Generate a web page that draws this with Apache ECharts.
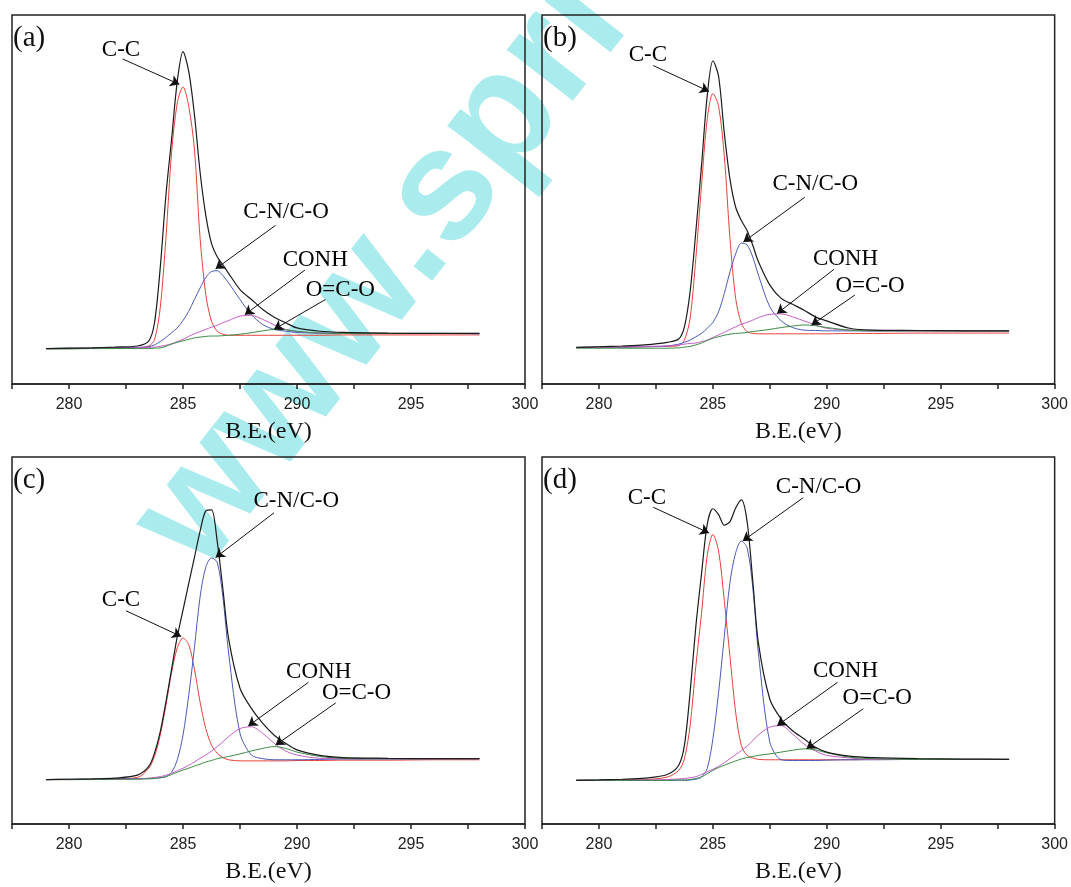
<!DOCTYPE html>
<html>
<head>
<meta charset="utf-8">
<script src="https://cdn.jsdelivr.net/npm/echarts@6/dist/echarts.min.js"></script>
<style>
  html, body { margin: 0; padding: 0; background: #fff; }
  #chart { width: 1071px; height: 887px; }
</style>
</head>
<body>
<div id="chart"></div>
<script>
// C1s 分峰拟合 - 四个样品
// 结合能 (eV)
const energy = [279, 280, 281, 282, 283, 283.5, 283.75, 284, 284.25, 284.5, 284.75, 285, 285.25, 285.5, 285.75,
  286, 286.25, 286.5, 286.75, 287, 287.5, 288, 288.5, 289, 289.5, 290, 291, 292, 294, 296, 298]

// (a)
const aTotal = [9.6, 9.7, 9.8, 10.0, 10.3, 11.7, 16.6, 31.4, 51.1, 66.4, 82.1, 90.1, 84.8, 73.1, 57.4,
  45.7, 38.1, 34.5, 32.3, 30.0, 25.6, 22.9, 20.2, 18.1, 16.6, 15.2, 14.3, 14.0, 13.8, 13.7, 13.7]
const aCC = [9.6, 9.6, 9.7, 9.8, 9.9, 10.3, 12.0, 20.6, 39.5, 62.8, 76.2, 80.5, 75.3, 63.7, 39.5,
  24.2, 17.0, 14.3, 13.5, 13.2, 13.2, 13.2, 13.2, 13.2, 13.2, 13.2, 13.2, 13.3, 13.3, 13.3, 13.3]
const aCN = [9.6, 9.7, 9.7, 9.8, 9.9, 10.1, 10.6, 11.5, 12.6, 13.9, 15.2, 17.2, 19.7, 22.9, 26.0,
  28.9, 30.5, 30.7, 29.4, 27.4, 22.9, 18.8, 16.1, 14.8, 14.3, 14.0, 13.8, 13.8, 13.7, 13.7, 13.6]
const aCONH = [9.6, 9.6, 9.7, 9.7, 9.8, 9.9, 10.0, 10.2, 10.5, 10.9, 11.5, 12.1, 12.9, 13.6, 14.2,
  14.8, 15.4, 15.9, 16.6, 17.2, 18.4, 18.6, 17.5, 16.0, 14.8, 14.2, 13.8, 13.7, 13.7, 13.7, 13.7]
const aOCO = [9.5, 9.5, 9.6, 9.6, 9.6, 9.6, 9.7, 9.8, 10.2, 10.8, 11.3, 11.7, 12.1, 12.5, 12.7,
  12.9, 13.0, 13.0, 13.1, 13.2, 13.5, 13.9, 14.4, 14.8, 14.7, 14.3, 13.8, 13.7, 13.7, 13.7, 13.7]

// (b)
const bTotal = [9.9, 10.1, 10.3, 10.6, 11.3, 12.2, 15.5, 25.0, 41.2, 59.1, 78.0, 87.6, 83.4, 68.1, 55.5,
  47.9, 44.3, 41.6, 37.6, 33.1, 26.8, 23.2, 21.6, 20.0, 18.2, 17.1, 15.1, 14.6, 14.5, 14.4, 14.4]
const bCC = [9.9, 9.9, 10.0, 10.1, 10.2, 10.4, 11.9, 17.8, 34.0, 53.7, 71.7, 78.7, 75.3, 61.8, 39.4,
  23.2, 16.4, 14.2, 13.7, 13.6, 13.6, 13.6, 13.6, 13.6, 13.6, 13.6, 13.7, 13.7, 13.8, 13.8, 13.8]
const bCN = [9.9, 10.0, 10.0, 10.1, 10.3, 10.8, 11.3, 11.9, 12.8, 13.7, 15.1, 16.7, 19.6, 24.5, 30.4,
  35.3, 38.2, 37.7, 34.4, 29.5, 20.9, 17.1, 15.3, 14.6, 14.5, 14.4, 14.4, 14.4, 14.4, 14.4, 14.4]
const bCONH = [9.9, 10.0, 10.1, 10.2, 10.3, 10.6, 10.8, 11.0, 11.1, 11.5, 11.9, 12.6, 13.3, 14.0, 14.8,
  15.5, 16.2, 16.7, 17.3, 18.0, 18.9, 19.0, 18.2, 17.1, 16.0, 15.1, 14.6, 14.4, 14.4, 14.4, 14.4]
const bOCO = [9.7, 9.7, 9.7, 9.7, 9.7, 9.8, 10.0, 10.2, 10.6, 11.1, 11.8, 12.4, 12.8, 13.2, 13.5,
  13.7, 13.8, 14.0, 14.2, 14.4, 14.8, 15.3, 15.7, 16.0, 15.8, 15.3, 14.6, 14.4, 14.4, 14.4, 14.4]

// (c)
const cTotal = [12.1, 12.2, 12.3, 12.5, 13.3, 15.7, 19.3, 25.1, 33.2, 42.2, 51.1, 58.3, 65.5, 72.6, 79.8,
  85.3, 85.6, 77.0, 64.0, 50.5, 37.0, 31.5, 27.4, 24.2, 22.0, 20.2, 18.7, 18.1, 17.9, 17.8, 17.8]
const cCC = [12.1, 12.1, 12.2, 12.3, 12.7, 15.2, 18.4, 24.2, 32.3, 41.3, 48.0, 50.7, 48.9, 42.2, 33.2,
  26.0, 21.5, 19.3, 18.1, 17.5, 17.2, 17.2, 17.2, 17.2, 17.2, 17.3, 17.3, 17.4, 17.4, 17.5, 17.5]
const cCN = [12.1, 12.2, 12.2, 12.3, 12.4, 12.4, 12.5, 12.6, 12.9, 14.1, 17.5, 24.2, 35.0, 48.0, 61.9,
  70.0, 72.5, 71.3, 61.9, 46.6, 24.7, 18.8, 17.8, 17.5, 17.5, 17.5, 17.6, 17.7, 17.7, 17.8, 17.8]
const cCONH = [12.1, 12.1, 12.2, 12.2, 12.3, 12.5, 12.7, 12.9, 13.3, 13.8, 14.5, 15.2, 16.0, 16.9, 17.9,
  18.8, 19.9, 21.1, 22.4, 23.8, 26.0, 26.5, 24.7, 22.0, 19.9, 18.8, 17.9, 17.8, 17.8, 17.8, 17.8]
const cOCO = [12.1, 12.1, 12.1, 12.2, 12.2, 12.3, 12.4, 12.6, 12.9, 13.5, 14.1, 14.7, 15.2, 15.8, 16.3,
  16.9, 17.3, 17.8, 18.1, 18.4, 19.1, 19.9, 20.6, 21.1, 20.6, 19.6, 18.4, 17.9, 17.8, 17.8, 17.8]

// (d)
const dTotal = [11.9, 12.0, 12.2, 12.5, 13.5, 16.0, 21.4, 35.8, 53.7, 68.1, 81.6, 85.9, 84.3, 81.4, 82.4,
  86.1, 88.3, 82.5, 66.3, 49.2, 34.0, 28.6, 25.4, 23.2, 20.9, 19.6, 18.5, 18.1, 17.8, 17.7, 17.6]
const dCC = [11.9, 11.9, 12.0, 12.1, 12.8, 14.6, 17.8, 26.8, 42.9, 57.3, 73.0, 78.9, 74.4, 60.9, 45.6,
  30.4, 21.4, 18.7, 18.0, 17.6, 17.5, 17.5, 17.5, 17.5, 17.5, 17.5, 17.5, 17.6, 17.6, 17.6, 17.6]
const dCN = [11.9, 11.9, 11.9, 11.9, 11.9, 11.9, 11.9, 12.0, 12.2, 12.8, 15.1, 23.2, 35.8, 51.0, 65.9,
  73.9, 77.1, 75.3, 64.5, 46.5, 22.3, 17.5, 17.3, 17.3, 17.3, 17.4, 17.5, 17.5, 17.6, 17.6, 17.6]
const dCONH = [11.9, 11.9, 12.0, 12.0, 12.1, 12.3, 12.4, 12.6, 12.9, 13.5, 14.2, 14.9, 15.7, 16.7, 17.8,
  18.9, 20.0, 21.2, 22.7, 24.3, 26.4, 26.8, 24.5, 21.8, 19.9, 18.7, 18.0, 17.6, 17.6, 17.6, 17.6]
const dOCO = [11.9, 11.9, 11.9, 11.9, 11.9, 12.0, 12.0, 12.1, 12.4, 12.8, 13.7, 14.6, 15.4, 16.0, 16.6,
  17.2, 17.7, 18.1, 18.4, 18.7, 19.1, 19.6, 20.1, 20.5, 20.2, 19.4, 18.2, 17.8, 17.6, 17.6, 17.6]

// 标注: 文字, 文字位置 (eV, 强度), 箭头起点, 箭头终点
const notesA = [
  ['C-C', 282.28, 90.6, 282.35, 88.1, 284.84, 81.2],
  ['C-N/C-O', 289.52, 46.6, 289.06, 43.0, 286.43, 31.2],
  ['CONH', 290.8, 33.6, 290.35, 30.9, 287.71, 18.8],
  ['O=C-O', 291.9, 25.6, 291.25, 22.9, 288.99, 14.8]
]
const notesB = [
  ['C-C', 282.15, 89.2, 282.38, 86.3, 284.83, 79.3],
  ['C-N/C-O', 289.49, 54.2, 289.03, 50.6, 286.34, 38.5],
  ['CONH', 290.82, 34.0, 290.32, 31.1, 287.82, 19.1],
  ['O=C-O', 291.9, 26.6, 291.23, 24.1, 289.33, 16.0]
]
const notesC = [
  ['C-C', 282.28, 61.0, 282.5, 58.1, 284.92, 51.1],
  ['C-N/C-O', 289.97, 87.9, 288.99, 84.8, 286.43, 72.6],
  ['CONH', 290.95, 41.4, 290.5, 38.6, 287.86, 26.7],
  ['O=C-O', 292.61, 35.7, 291.7, 33.0, 289.06, 21.5]
]
const notesD = [
  ['C-C', 282.1, 88.9, 282.38, 86.3, 284.83, 79.3],
  ['C-N/C-O', 289.64, 91.9, 288.96, 88.9, 286.31, 77.1],
  ['CONH', 290.82, 41.6, 290.47, 38.6, 287.82, 26.8],
  ['O=C-O', 292.21, 34.4, 291.6, 31.4, 289.11, 20.5]
]

const panelTags = ['(a)', '(b)', '(c)', '(d)']
const xTicks = [280, 285, 290, 295, 300]

const panels = [
  { curves: [aTotal, aCC, aCN, aCONH, aOCO], notes: notesA },
  { curves: [bTotal, bCC, bCN, bCONH, bOCO], notes: notesB },
  { curves: [cTotal, cCC, cCN, cCONH, cOCO], notes: notesC },
  { curves: [dTotal, dCC, dCN, dCONH, dOCO], notes: notesD }
]

const gridBoxes = [
  { left: 12, top: 15, width: 513, height: 369 },
  { left: 542, top: 15, width: 514, height: 369 },
  { left: 12, top: 457, width: 513, height: 367 },
  { left: 542, top: 457, width: 514, height: 367 }
]

const lineColors = ['#1b1b1b', '#e8413a', '#4a5ab8', '#c45ec8', '#3d8c46']
const serif = '"Liberation Serif", "DejaVu Serif", serif'

const chart = echarts.init(document.getElementById('chart'))

const grids = gridBoxes.map(b => ({
  left: b.left, top: b.top, width: b.width, height: b.height,
  show: true, borderColor: '#222', borderWidth: 1.5, backgroundColor: 'transparent'
}))

const xAxes = gridBoxes.map((b, i) => ({
  gridIndex: i,
  type: 'value',
  min: 277.5,
  max: 300,
  interval: 2.5,
  axisLine: { show: true, onZero: false, lineStyle: { color: '#222', width: 1.5 } },
  axisTick: { show: true, inside: false, length: 5, lineStyle: { color: '#222', width: 1.5 } },
  axisLabel: {
    color: '#222',
    fontSize: 16,
    fontFamily: '"Liberation Sans", Arial, sans-serif',
    margin: 13,
    showMaxLabel: true,
    formatter: v => xTicks.includes(v) ? String(v) : ''
  },
  splitLine: { show: false },
  name: 'B.E.(eV)',
  nameLocation: 'middle',
  nameGap: 36,
  nameTextStyle: { fontFamily: serif, fontSize: 24, color: '#111' }
}))

const yAxes = gridBoxes.map((b, i) => ({
  gridIndex: i, type: 'value', min: 0, max: 100, show: false
}))

const series = []
panels.forEach((p, i) => {
  p.curves.forEach((arr, k) => {
    series.push({
      type: 'line',
      xAxisIndex: i,
      yAxisIndex: i,
      data: energy.map((e, j) => [e, arr[j]]),
      smooth: 0.3,
      symbol: 'none',
      silent: true,
      z: k === 0 ? 3 : 2,
      lineStyle: { color: lineColors[k], width: k === 0 ? 1.2 : 1 }
    })
  })
  // 标注文字 + 箭头
  series.push({
    type: 'scatter',
    xAxisIndex: i,
    yAxisIndex: i,
    symbolSize: 1,
    silent: true,
    itemStyle: { color: 'rgba(0,0,0,0)', opacity: 1 },
    z: 5,
    data: p.notes.map(n => [n[1], n[2], n[0]]),
    label: {
      show: true,
      position: 'inside',
      formatter: q => q.data[2],
      fontFamily: serif,
      fontSize: 23,
      color: '#000',
      opacity: 1
    },
    markLine: {
      silent: true,
      symbol: ['none', 'arrow'],
      symbolSize: 9,
      label: { show: false },
      lineStyle: { color: '#111', width: 1, type: 'solid', opacity: 1 },
      data: p.notes.map(n => [{ coord: [n[3], n[4]] }, { coord: [n[5], n[6]] }])
    }
  })
})

const graphics = [
  {
    type: 'text',
    x: 230,
    y: 597,
    rotation: 52 * Math.PI / 180,
    z: -1,
    silent: true,
    style: {
      text: 'www.spri',
      font: 'bold 158px "Liberation Sans", Arial, sans-serif',
      fill: '#aaecee',
      align: 'left',
      verticalAlign: 'bottom'
    }
  }
].concat(gridBoxes.map((b, i) => ({
  type: 'text',
  x: b.left + 1,
  y: b.top + 23,
  z: 10,
  style: {
    text: panelTags[i],
    font: '29px ' + serif,
    fill: '#111',
    align: 'left',
    verticalAlign: 'middle'
  }
})))

chart.setOption({
  animation: false,
  backgroundColor: '#fff',
  grid: grids,
  xAxis: xAxes,
  yAxis: yAxes,
  series: series,
  graphic: graphics
})
</script>
</body>
</html>
